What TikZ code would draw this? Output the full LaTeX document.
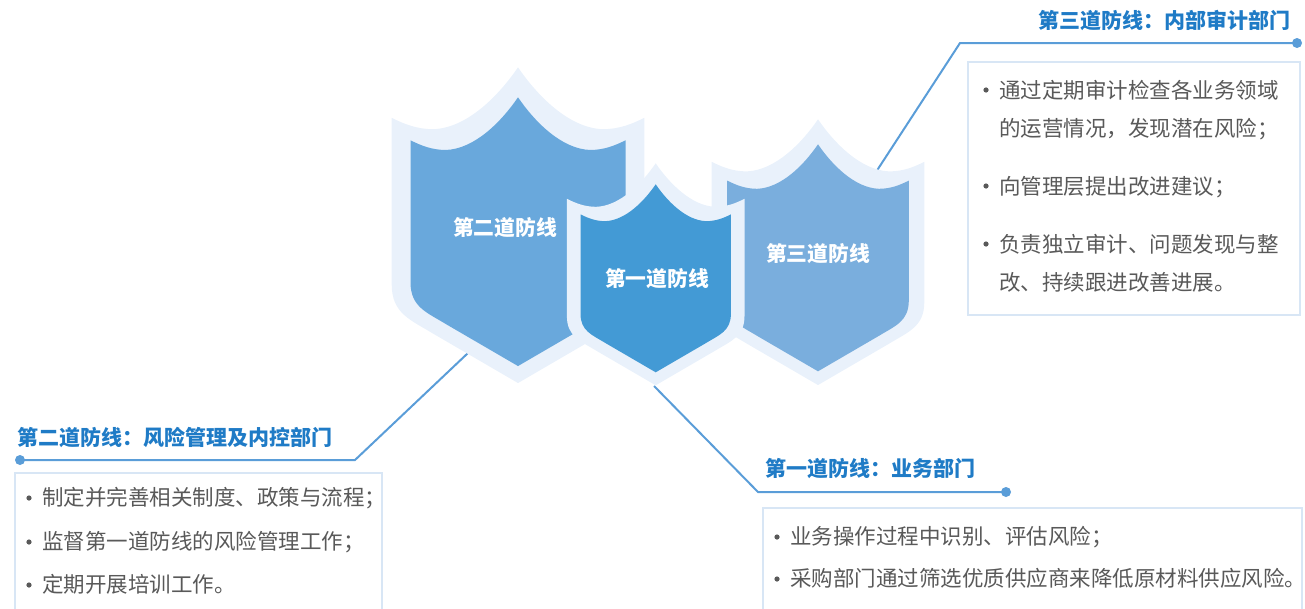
\documentclass[tikz,border=0pt]{standalone}
\usepackage{fontspec}
\setmainfont{Noto Sans CJK SC}
\definecolor{shlight}{HTML}{E9F1FB}
\definecolor{shleft}{HTML}{69A8DC}
\definecolor{shmid}{HTML}{439AD5}
\definecolor{shright}{HTML}{7AAEDD}
\definecolor{lineblue}{HTML}{5A9DD8}
\definecolor{titleblue}{HTML}{1F7BC6}
\definecolor{bodygray}{HTML}{595959}
\definecolor{boxedge}{HTML}{D8E6F5}
\newcommand{\shieldshape}[4]{%
  \begin{scope}[shift={(#1,#2)}, x=#3pt, y=-#3pt]
    \fill[#4] (0,0) .. controls (-0.15,0.22) and (-0.4,0.48) .. (-0.67,0.49)
      .. controls (-0.8,0.49) and (-0.9,0.45) .. (-1,0.40) -- (-1,1.72)
      .. controls (-1,1.95) and (-0.85,2.0) .. (-0.67,2.11) -- (0,2.5)
      -- (0.67,2.11) .. controls (0.85,2.0) and (1,1.95) .. (1,1.72)
      -- (1,0.40) .. controls (0.9,0.45) and (0.8,0.49) .. (0.67,0.49)
      .. controls (0.4,0.48) and (0.15,0.22) .. (0,0) -- cycle;
  \end{scope}}
\tikzset{
  conn/.style={draw=lineblue, line width=2pt},
  enddot/.style={fill=lineblue},
  ttl/.style={anchor=base west, inner sep=0pt, font=\fontsize{21}{21}\selectfont\bfseries, text=titleblue},
  body/.style={anchor=base west, inner sep=0pt, font=\fontsize{21.5}{21.5}\selectfont, text=bodygray},
  shlabel/.style={inner sep=0pt, font=\fontsize{20.8}{20.8}\selectfont\bfseries, text=white},
  infobox/.style={draw=boxedge, line width=1.5pt, fill=white},
  bul/.style={fill=bodygray}
}
\begin{document}
\begin{tikzpicture}[x=1pt, y=-1pt]
\useasboundingbox (0,0) rectangle (1305,608);
\clip (0,0) rectangle (1305,608);
% connector coordinates
\coordinate (s2) at (468,353);
\coordinate (k2) at (355,460);
\coordinate (e2) at (20,460);
\coordinate (s1) at (654,386);
\coordinate (k1) at (758,492);
\coordinate (e1) at (1006,492);
\coordinate (s3) at (876,172);
\coordinate (k3) at (960,43);
\coordinate (e3) at (1297,43);
% connectors (behind shields)
\draw[conn] (s2) -- (k2) -- (e2);
\draw[conn] (s1) -- (k1) -- (e1);
\draw[conn] (s3) -- (k3) -- (e3);
\fill[enddot] (e2) circle (5);
\fill[enddot] (e1) circle (5);
\fill[enddot] (e3) circle (5);
% shields
\shieldshape{518}{67.3}{126.3}{shlight}
\shieldshape{518}{97.3}{107.5}{shleft}
\shieldshape{818}{119.3}{106.3}{shlight}
\shieldshape{818}{144.3}{90.8}{shright}
\shieldshape{655.7}{163.3}{88.8}{shlight}
\shieldshape{655.7}{184.3}{75.2}{shmid}
\node[shlabel] (l2) at (505,228) {第二道防线};
\node[shlabel] (l1) at (657,279) {第一道防线};
\node[shlabel] (l3) at (818,254) {第三道防线};
% titles
\node[ttl, anchor=base east] (t3) at (1291,28) {第三道防线：内部审计部门};
\node[ttl] (t2) at (17,445) {第二道防线：风险管理及内控部门};
\node[ttl] (t1) at (765,476) {第一道防线：业务部门};
% boxes
\draw[infobox] (968,62) rectangle (1300,315);
\draw[infobox] (15,473) rectangle (382,620);
\draw[infobox] (763,508) rectangle (1302,620);
% box 3 text
\fill[bul] (986,90) circle (2.6);
\node[body] (b31) at (999,98) {通过定期审计检查各业务领域};
\node[body] (b32) at (999,136) {的运营情况，发现潜在风险；};
\fill[bul] (986,186) circle (2.6);
\node[body] (b33) at (999,194) {向管理层提出改进建议；};
\fill[bul] (986,244) circle (2.6);
\node[body] (b34) at (999,252) {负责独立审计、问题发现与整};
\node[body] (b35) at (999,290) {改、持续跟进改善进展。};
% box 2 text
\fill[bul] (29,498) circle (2.6);
\node[body] (b21) at (42,505) {制定并完善相关制度、政策与流程；};
\fill[bul] (29,542) circle (2.6);
\node[body] (b22) at (42,549) {监督第一道防线的风险管理工作；};
\fill[bul] (29,585) circle (2.6);
\node[body] (b23) at (42,592) {定期开展培训工作。};
% box 1 text
\fill[bul] (777,537) circle (2.6);
\node[body] (b11) at (790,544) {业务操作过程中识别、评估风险；};
\fill[bul] (777,579) circle (2.6);
\node[body] (b12) at (790,586) {采购部门通过筛选优质供应商来降低原材料供应风险。};
\end{tikzpicture}
\end{document}
